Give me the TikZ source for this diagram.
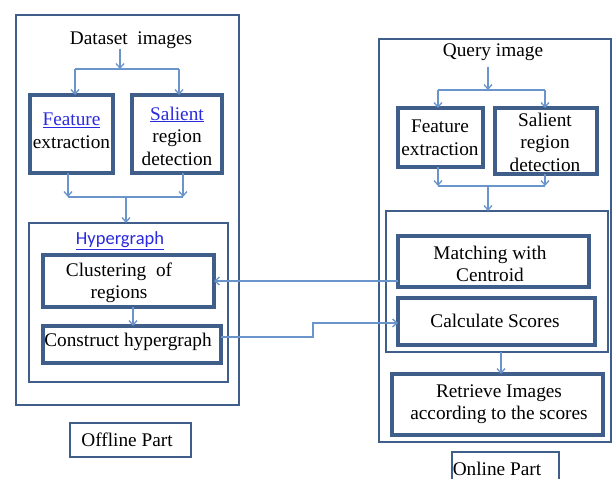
\documentclass[tikz,border=0pt]{standalone}
\usepackage{fontspec}
\setmainfont{Liberation Serif}
\newfontfamily\hgfont{Carlito}
\usetikzlibrary{arrows.meta,calc}
\definecolor{boxc}{HTML}{3F5F8A}
\definecolor{linec}{HTML}{6A94CC}
\definecolor{linkc}{HTML}{2A2AE0}
\begin{document}
\begin{tikzpicture}[x=1pt,y=-1pt,
  box/.style={draw=boxc, line width=3.2pt, inner sep=0pt, outer sep=0pt},
  frame/.style={draw=boxc, line width=2pt, inner sep=0pt, outer sep=0pt},
  thinframe/.style={draw=boxc, line width=1.6pt, inner sep=0pt, outer sep=0pt},
  conn/.style={draw=linec, line width=1.3pt},
  arr/.style={conn, -{Straight Barb[length=4.5pt,width=8pt]}},
  txt/.style={align=center, font=\fontsize{19.3}{22.5}\selectfont, text=black, inner sep=0pt}]
\useasboundingbox[fill=white] (0,0) rectangle (613,479);

% ---------- Offline part ----------
\node[frame, minimum width=223pt, minimum height=390pt] (outerL) at (127.5,210) {};
\node[txt] (dataset) at (131,40) {Dataset~ images};
\node[box, minimum width=83pt, minimum height=78pt] (featL) at (71.5,134) {};
\node[txt] (featLt) at (71.5,131) {\textcolor{linkc}{\underline{Feature}}\\extraction};
\node[box, minimum width=90pt, minimum height=78pt] (salL) at (177,134) {};
\node[txt] (salLt) at (177,136) {\textcolor{linkc}{\underline{Salient}}\\region\\detection};
\node[frame, minimum width=199pt, minimum height=159pt] (hyperL) at (128.5,302.5) {};
\node[inner sep=0pt, font=\hgfont\fontsize{18.5}{20}\selectfont] (hypt) at (120,241) {\textcolor{linkc}{\underline{Hypergraph}}};
\node[box, minimum width=171pt, minimum height=52pt] (clusL) at (128.5,281) {};
\node[txt] (clusLt) at (119,283) {Clustering~ of\\regions};
\node[box, minimum width=178pt, minimum height=37pt] (conL) at (132,344.5) {};
\node[txt] (conLt) at (128,342) {Construct hypergraph};
\node[thinframe, minimum width=121pt, minimum height=34pt] (offline) at (130.5,440) {};
\node[txt] (offlinet) at (127,440) {Offline Part};

% connectors offline
\coordinate (dj) at (120,69);
\coordinate (djl) at (75,69);
\coordinate (djr) at (179,69);
\draw[arr] (dataset.south -| dj) -- (dj);
\draw[conn] (djl) -- (djr);
\draw[arr] (djl) -- (djl |- featL.north);
\draw[arr] (djr) -- (djr |- salL.north);
\coordinate (bjl) at (68,197);
\coordinate (bjr) at (183,197);
\coordinate (bj) at (126,197);
\draw[arr] (featL.south -| bjl) -- (bjl);
\draw[arr] (salL.south -| bjr) -- (bjr);
\draw[conn] (bjl) -- (bjr);
\draw[arr] (bj) -- (bj |- hyperL.north);
\coordinate (cj) at (133,0);
\draw[arr] (clusL.south -| cj) -- (conL.north -| cj);

% ---------- Online part ----------
\node[frame, minimum width=232pt, minimum height=403pt] (outerR) at (495,240.5) {};
\node[txt] (query) at (493,52) {Query image};
\node[box, minimum width=85pt, minimum height=59pt] (featR) at (440.5,137.5) {};
\node[txt] (featRt) at (440,138) {Feature\\extraction};
\node[box, minimum width=102pt, minimum height=66pt] (salR) at (546,141) {};
\node[txt] (salRt) at (545,142) {Salient\\region\\detection};
\node[frame, minimum width=222pt, minimum height=141pt] (innerR) at (497,281.5) {};
\node[box, minimum width=191pt, minimum height=51pt] (matchR) at (493.5,261.5) {};
\node[txt] (matchRt) at (490,264) {Matching with\\Centroid};
\node[box, minimum width=197pt, minimum height=47pt] (calcR) at (496.5,321.5) {};
\node[txt] (calcRt) at (495,321) {Calculate Scores};
\node[box, minimum width=211pt, minimum height=61pt] (retR) at (497.5,404.5) {};
\node[txt] (retRt) at (499,404) {Retrieve Images\\according to the scores};
\node[txt] (onlinet) at (497,469) {Online Part};
\coordinate (onbl) at (452,481);
\coordinate (onbr) at (559,481);
\draw[boxc, line width=1.6pt] (onbl) -- (onbl |- 0,452) -- (onbr |- 0,452) -- (onbr);

% connectors online
\coordinate (qj) at (488,90);
\coordinate (qjl) at (438,90);
\coordinate (qjr) at (545,90);
\draw[arr] (query.south -| qj) ++(0,6) -- (qj);
\draw[conn] (qjl) -- (qjr);
\draw[arr] (qjl) -- (qjl |- featR.north);
\draw[arr] (qjr) -- (qjr |- salR.north);
\coordinate (rjl) at (438,186);
\coordinate (rjr) at (545,186);
\coordinate (rj) at (488,186);
\draw[arr] (featR.south -| rjl) -- (rjl);
\draw[arr] (salR.south -| rjr) -- (rjr);
\draw[conn] (rjl) -- (rjr);
\draw[arr] (rj) -- (rj |- innerR.north);
\coordinate (sj) at (501,0);
\draw[arr] (innerR.south -| sj) -- (retR.north -| sj);

% cross connectors
\coordinate (m1) at (0,281);
\draw[arr] (matchR.west |- m1) -- (clusL.east |- m1);
\coordinate (c1) at (313,337);
\coordinate (c2) at (313,323);
\draw[arr] (conL.east |- c1) -- (c1) -- (c2) -- (calcR.west |- c2);
\end{tikzpicture}
\end{document}
